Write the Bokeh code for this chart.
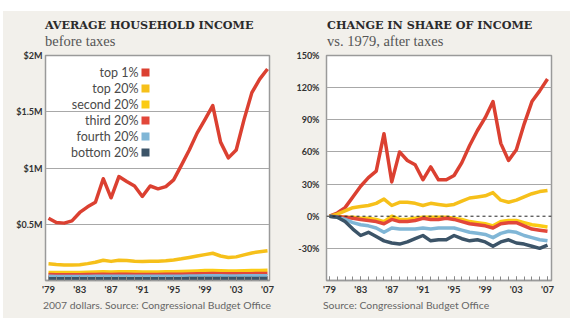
from bokeh.plotting import figure
from bokeh.layouts import row, column
from bokeh.models import Range1d, FixedTicker, Span, Div
from bokeh.embed import file_html
from bokeh.resources import INLINE
from bokeh.core.properties import value

# ---------------- data ----------------
years = list(range(1979, 2008))

# Average household income before taxes, thousands of 2007 dollars
inc_top1 = [554, 515, 510, 530, 605, 655, 695, 905, 735, 924, 880, 840, 747, 840, 815,
            835, 895, 1025, 1160, 1310, 1430, 1555, 1230, 1090, 1160, 1430, 1670, 1790, 1880]
inc_top20 = [148, 142, 138, 137, 140, 150, 162, 180, 170, 180, 178, 172, 168, 172, 172,
             175, 183, 193, 205, 218, 230, 242, 218, 205, 210, 228, 245, 256, 265]
inc_second = [72, 71, 71, 71, 72, 74, 75, 77, 76, 78, 78, 77, 75, 76, 76,
              77, 78, 80, 83, 85, 88, 90, 87, 85, 85, 87, 89, 90, 91]
inc_third = [53, 52, 51, 51, 52, 53, 54, 55, 54, 55, 55, 54, 53, 54, 54,
             55, 55, 56, 58, 59, 61, 62, 60, 59, 59, 60, 61, 62, 62]
inc_fourth = [37, 36, 36, 35, 36, 36, 37, 37, 37, 38, 38, 37, 37, 37, 37,
              38, 38, 38, 40, 41, 42, 43, 42, 41, 41, 42, 42, 43, 43]
inc_bottom = [16, 15, 15, 15, 15, 15, 15, 15, 15, 16, 16, 15, 15, 15, 15,
              16, 16, 16, 17, 17, 18, 18, 17, 17, 17, 17, 17, 18, 18]

# Change in share of after-tax income vs. 1979, percent
chg_top1 = [0, 3, 8, 18, 28, 36, 42, 77, 32, 60, 52, 48, 34, 46, 34,
            34, 38, 50, 66, 80, 92, 107, 68, 52, 62, 86, 107, 117, 128]
chg_top20 = [0, 2, 5, 8, 9, 10, 12, 16, 10, 13, 13, 12, 10, 12, 11,
             10, 11, 14, 17, 18, 19, 22, 15, 13, 15, 18, 21, 23, 24]
chg_second = [0, -0.5, -1, -1, -2, -2, -3, -5, 0, -3, -3, -2, -1, -1, -1,
              -1, -2, -3, -5, -6, -7, -9, -5, -4, -4, -6, -8, -9, -10]
chg_third = [0, -0.5, -1, -2, -3, -4, -5, -7, -3, -5, -5, -4, -2, -3, -3,
             -2, -3, -5, -7, -8, -9, -11, -7, -6, -6, -9, -12, -13, -14]
chg_fourth = [0, -1, -3, -6, -8, -9, -11, -15, -11, -12, -12, -12, -11, -12, -11,
              -11, -11, -13, -15, -16, -17, -20, -16, -14, -15, -18, -20, -22, -23]
chg_bottom = [0, -1, -5, -12, -18, -15, -19, -23, -25, -26, -24, -21, -18, -23, -22,
              -22, -18, -21, -23, -22, -24, -28, -24, -22, -25, -26, -28, -30, -27]

series_names = ["top 1%", "top 20%", "second 20%", "third 20%", "fourth 20%", "bottom 20%"]
series_colors = ["#db4031", "#f6c01a", "#fbcb14", "#e2473a", "#80b6d6", "#3c5468"]

major_years = list(range(1979, 2008, 4))
year_labels = {y: "'" + str(y)[2:] for y in major_years}

inc_ticks = [500, 1000, 1500, 2000]
inc_labels = {500: "$0.5M", 1000: "$1M", 1500: "$1.5M", 2000: "$2M"}
chg_ticks = [-30, 0, 30, 60, 90, 120, 150]
chg_labels = {t: f"{t}%" for t in chg_ticks}

# ---------------- styling ----------------
BG = "#f2f0eb"
GRID = "#a8a8a8"
FRAME = "#9a9a9a"
TEXT = "#333333"
SANS = "Lato"
FIG_H = 249   # 6 top border + 225 frame + 18 bottom border


def base_fig(width, x_rng, y_rng, bl, br):
    p = figure(width=width, height=FIG_H, x_range=x_rng, y_range=y_rng,
               output_backend="svg", toolbar_location=None,
               min_border_left=bl, min_border_right=br,
               min_border_top=6, min_border_bottom=18)
    p.background_fill_color = "white"
    p.border_fill_color = BG
    p.outline_line_color = FRAME
    p.outline_line_width = 1.5
    p.xgrid.visible = False
    p.ygrid.grid_line_color = GRID
    p.ygrid.grid_line_width = 1.2
    ax = p.xaxis[0]
    ax.ticker = FixedTicker(ticks=major_years, minor_ticks=years)
    ax.major_label_overrides = year_labels
    ax.axis_line_color = FRAME
    ax.axis_line_width = 1.5
    ax.major_tick_in = 4
    ax.major_tick_out = 0
    ax.minor_tick_in = 4
    ax.minor_tick_out = 0
    ax.major_tick_line_color = "#888888"
    ax.minor_tick_line_color = "#888888"
    ax.major_label_standoff = 3
    ax.major_label_text_font = SANS
    ax.major_label_text_font_style = "bold"
    ax.major_label_text_font_size = "9.5px"
    ax.major_label_text_color = TEXT
    ay = p.yaxis[0]
    ay.axis_line_color = None
    ay.major_tick_in = 0
    ay.major_tick_out = 0
    ay.minor_tick_line_color = None
    ay.major_label_text_font = SANS
    ay.major_label_text_font_style = "bold"
    ay.major_label_text_font_size = "9px"
    ay.major_label_text_color = TEXT
    return p


def header_div(width, left, head, sub):
    html = (
        f'<div style="position:relative;width:{width}px;height:38px;">'
        f'<div style="position:absolute;left:{left}px;top:9px;white-space:nowrap;'
        f"font-family:'DejaVu Serif';font-weight:bold;font-size:11.2px;line-height:1;"
        f'color:#2b2b2b;">{head}</div>'
        f'<div style="position:absolute;left:{left}px;top:22.8px;white-space:nowrap;'
        f"font-family:'Liberation Serif';font-size:14.5px;line-height:1;"
        f'color:#555555;">{sub}</div></div>'
    )
    return Div(text=html, width=width, height=38, margin=0,
               styles={"background-color": BG})


def footer_div(width, left, foot):
    html = (
        f'<div style="position:relative;width:{width}px;height:20px;">'
        f'<div style="position:absolute;left:{left}px;top:1.5px;white-space:nowrap;'
        f"font-family:'Lato';font-size:10.4px;line-height:1;"
        f'color:#666666;">{foot}</div></div>'
    )
    return Div(text=html, width=width, height=20, margin=0,
               styles={"background-color": BG})


# ---------------- left chart ----------------
FL1, FR1, FT, FB = 45, 269, 55, 280
x1s, x1e = 1979 - 3 / 7.821, 2007 + 2 / 7.821
p1 = base_fig(284, Range1d(x1s, x1e), Range1d(0, 2000), 42, 18)
p1.yaxis[0].ticker = FixedTicker(ticks=inc_ticks)
p1.yaxis[0].major_label_overrides = inc_labels
p1.yaxis[0].major_label_standoff = 3
p1.ygrid.ticker = FixedTicker(ticks=inc_ticks)


def px1(x, y):
    return (x1s + (x - FL1) / (FR1 - FL1) * (x1e - x1s),
            (FB - y) / (FB - FT) * 2000)


inc_series = [inc_top1, inc_top20, inc_second, inc_third, inc_fourth, inc_bottom]
for vals, col in zip(inc_series, series_colors):
    p1.line(years, vals, line_color=col, line_width=3.5, line_join="round")

# legend (text right-aligned, swatch to the right)
leg_rows = [72, 88, 104, 120, 136, 152]
for name, col, ry in zip(series_names, series_colors, leg_rows):
    tx, ty = px1(138, ry)
    p1.text(x=[tx], y=[ty], text=[name], text_align="right", text_baseline="middle",
            text_font=value(SANS), text_font_size="12.5px", text_color="#4a4a4a")
    sx, sy = px1(145, ry)
    p1.scatter(x=[sx], y=[sy], marker="square", size=8, fill_color=col, line_color=None)

# ---------------- right chart ----------------
x2s, x2e = 1979 - 3 / 7.786, 2007 + 4 / 7.786
p2 = base_fig(283, Range1d(x2s, x2e), Range1d(-60, 150), 39, 19)
p2.yaxis[0].ticker = FixedTicker(ticks=chg_ticks)
p2.yaxis[0].major_label_overrides = chg_labels
p2.yaxis[0].major_label_standoff = 7
p2.ygrid.ticker = FixedTicker(ticks=[t for t in chg_ticks if t != 0])
p2.add_layout(Span(location=0, dimension="width", line_color="#222222",
                   line_width=1, line_dash="3 3"))

chg_series = [chg_top1, chg_top20, chg_second, chg_third, chg_fourth, chg_bottom]
for vals, col in zip(chg_series, series_colors):
    p2.line(years, vals, line_color=col, line_width=3.5, line_join="round")

# ---------------- page ----------------
head_row = row(header_div(284, 42, "AVERAGE HOUSEHOLD INCOME", "before taxes"),
               header_div(283, 40, "CHANGE IN SHARE OF INCOME", "vs. 1979, after taxes"),
               spacing=0)
plot_row = row(p1, p2, spacing=0)
foot_row = row(footer_div(284, 40, "2007 dollars. Source: Congressional Budget Office"),
               footer_div(283, 36, "Source: Congressional Budget Office"),
               spacing=0)
layout = column(head_row, plot_row, foot_row, spacing=0, margin=(11, 0, 0, 3),
                styles={"background-color": BG})
open("out.html", "w").write(file_html(layout, INLINE))
